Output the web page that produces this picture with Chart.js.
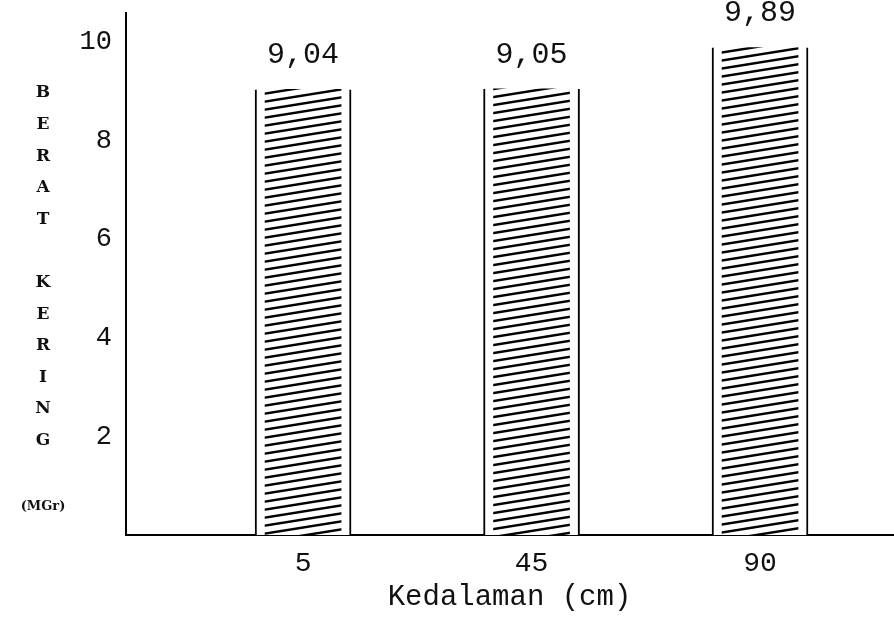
<!DOCTYPE html>
<html>
<head>
<meta charset="utf-8">
<script src="https://cdn.jsdelivr.net/npm/chart.js@4/dist/chart.umd.min.js"></script>
<style>
  html, body { margin: 0; padding: 0; background: #fff; }
  #wrap { width: 894px; height: 627px; position: relative; }
</style>
</head>
<body>
<div id="wrap"><canvas id="c" width="894" height="627"></canvas></div>
<script>
// ---- data ----
const categories = ['5', '45', '90'];
const beratKering = [9.04, 9.05, 9.89];
const yTickValues = [2, 4, 6, 8, 10];
const xTitle = 'Kedalaman (cm)';
const yTitleText = 'BERAT KERING';
const yUnitText = '(MGr)';

// positions of categories on the linear x scale (1..n)
const catPos = categories.map((c, i) => i + 1);
const points = catPos.map((p, i) => ({ x: p, y: beratKering[i] }));

// hatch pattern
function makeHatch() {
  const w = 50, h = 8;
  const pc = document.createElement('canvas');
  pc.width = w; pc.height = h;
  const g = pc.getContext('2d');
  g.fillStyle = '#fff';
  g.fillRect(0, 0, w, h);
  g.strokeStyle = '#000';
  g.lineWidth = 2.4;
  for (let k = -1; k <= 1; k++) {
    g.beginPath();
    g.moveTo(0, h + k * h);
    g.lineTo(w, 0 + k * h);
    g.stroke();
  }
  return document.getElementById('c').getContext('2d').createPattern(pc, 'repeat');
}

const monoFont = '"Liberation Mono", "DejaVu Sans Mono", monospace';

const extraText = {
  id: 'extraText',
  afterDatasetsDraw(chart) {
    const ctx = chart.ctx;
    const meta = chart.getDatasetMeta(1);
    ctx.save();
    ctx.fillStyle = '#111';
    ctx.font = '30px ' + monoFont;
    ctx.textAlign = 'center';
    ctx.textBaseline = 'middle';
    meta.data.forEach((el, i) => {
      const txt = beratKering[i].toFixed(2).replace('.', ',');
      ctx.fillText(txt, el.x, el.y - 34);
    });
    ctx.restore();
  },
  afterDraw(chart) {
    const ctx = chart.ctx;
    ctx.save();
    ctx.fillStyle = '#111';
    ctx.textAlign = 'center';
    ctx.textBaseline = 'middle';
    ctx.font = 'bold 17px "DejaVu Serif", serif';
    const chars = yTitleText.split('');
    chars.forEach((ch, i) => {
      if (ch !== ' ') ctx.fillText(ch, 43, 93 + i * 31.6);
    });
    ctx.font = 'bold 13px "DejaVu Serif", serif';
    ctx.fillText(yUnitText, 43, 507);
    ctx.restore();
  }
};

new Chart(document.getElementById('c'), {
  type: 'bar',
  data: {
    datasets: [
      {
        label: 'hatch',
        data: points,
        backgroundColor: makeHatch(),
        borderWidth: 0,
        barThickness: 76,
        grouped: false,
        order: 0
      },
      {
        label: 'frame',
        data: points,
        backgroundColor: '#fff',
        borderColor: '#000',
        borderWidth: { left: 2, right: 2, top: 0, bottom: 0 },
        borderSkipped: false,
        barThickness: 96,
        grouped: false,
        order: 1
      }
    ]
  },
  options: {
    responsive: false,
    animation: false,
    devicePixelRatio: 1,
    layout: { padding: { top: 13, right: 1, left: 0, bottom: 0 } },
    plugins: {
      legend: { display: false },
      tooltip: { enabled: false },
      title: { display: false }
    },
    scales: {
      x: {
        type: 'linear',
        offset: false,
        min: 0.225,
        max: 3.582,
        afterFit(scale) { scale.height = 92; scale.paddingLeft = 0; scale.paddingRight = 0; },
        afterBuildTicks(scale) { scale.ticks = catPos.map(v => ({ value: v })); },
        grid: { display: false, drawTicks: false, offset: false },
        border: { display: true, color: '#000', width: 2 },
        ticks: {
          padding: 12,
          color: '#111',
          font: { family: monoFont, size: 28 },
          callback: (v) => categories[Math.round(v) - 1] ?? ''
        },
        title: {
          display: true,
          text: xTitle,
          color: '#111',
          font: { family: monoFont, size: 29 },
          padding: { top: 0, bottom: 12 }
        }
      },
      y: {
        type: 'linear',
        min: 0,
        max: 10.59,
        afterFit(scale) { scale.width = 126; scale.paddingTop = 0; scale.paddingBottom = 0; },
        afterBuildTicks(scale) { scale.ticks = yTickValues.map(v => ({ value: v })); },
        grid: { display: false, drawTicks: false },
        border: { display: true, color: '#000', width: 2 },
        ticks: {
          padding: 14,
          color: '#111',
          font: { family: monoFont, size: 27 },
          callback: (v) => String(v)
        }
      }
    }
  },
  plugins: [extraText]
});
</script>
</body>
</html>
